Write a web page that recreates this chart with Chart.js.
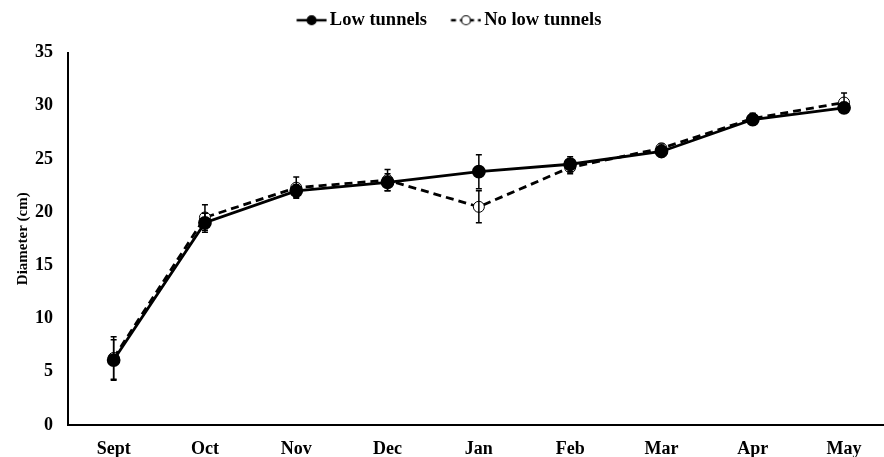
<!DOCTYPE html>
<html>
<head>
<meta charset="utf-8">
<script src="https://cdn.jsdelivr.net/npm/chart.js@4.4.0/dist/chart.umd.min.js"></script>
<style>
  html, body { margin: 0; padding: 0; background: #ffffff; overflow: hidden; }
  /* plot runs a little past the right edge of the window, like the original */
  #wrap { width: 898px; height: 457px; }
</style>
</head>
<body>
<div id="wrap"><canvas id="diameterChart"></canvas></div>
<script>
'use strict';
// values
const months = ['Sept', 'Oct', 'Nov', 'Dec', 'Jan', 'Feb', 'Mar', 'Apr', 'May'];
const lowTunnels = [6.1, 19.0, 22.0, 22.8, 23.8, 24.5, 25.7, 28.7, 29.8];
const lowTunnelsErr = [1.9, 0.9, 0.6, 0.8, 1.6, 0.7, 0.5, 0.5, 0.5];
const noLowTunnels = [6.3, 19.5, 22.3, 23.0, 20.5, 24.2, 26.0, 28.8, 30.3];
const noLowTunnelsErr = [2.0, 1.2, 1.0, 1.0, 1.5, 0.6, 0.4, 0.5, 0.9];
const yTicks = [0, 5, 10, 15, 20, 25, 30, 35];

Chart.defaults.font.family = "'Liberation Serif', 'Times New Roman', serif";
Chart.defaults.font.weight = 'bold';
Chart.defaults.color = '#000000';

// legend marker: line with a dot in the middle, blank on the left so the items sit apart
function legendMarker(dashed, filled) {
    let c = document.createElement('canvas');
    c.width = 50;
    c.height = 14;
    let g = c.getContext('2d');
    g.strokeStyle = '#000';
    g.lineWidth = 2.5;
    if (dashed) g.setLineDash([5, 4]);
    g.beginPath();
    g.moveTo(19.5, 7);
    g.lineTo(49.5, 7);
    g.stroke();
    g.setLineDash([]);
    g.beginPath();
    g.arc(34.5, 7, 4.5, 0, Math.PI * 2);
    g.fillStyle = filled ? '#000' : '#fff';
    g.fill();
    g.lineWidth = 1.2;
    g.stroke();
    return c;
}

// vertical error bars with small caps
const errorBars = {
    id: 'errorBars',
    afterDatasetsDraw(chart) {
        let ctx = chart.ctx;
        let y = chart.scales.y;
        chart.data.datasets.forEach((ds, i) => {
            let meta = chart.getDatasetMeta(i);
            ctx.save();
            ctx.strokeStyle = '#000';
            ctx.lineWidth = 1.5;
            meta.data.forEach((pt, j) => {
                let v = ds.data[j], e = ds.errors[j];
                let top = y.getPixelForValue(v + e);
                let bot = y.getPixelForValue(v - e);
                ctx.beginPath();
                ctx.moveTo(pt.x, top);
                ctx.lineTo(pt.x, bot);
                ctx.moveTo(pt.x - 3, top);
                ctx.lineTo(pt.x + 3, top);
                ctx.moveTo(pt.x - 3, bot);
                ctx.lineTo(pt.x + 3, bot);
                ctx.stroke();
            });
            ctx.restore();
        });
    }
};

// extra room under the legend, and centre it on the visible window
const legendGap = {
    id: 'legendGap',
    beforeInit(chart) {
        let fit = chart.legend.fit;
        chart.legend.fit = function () {
            fit.bind(chart.legend)();
            this.height += 13;
        };
    },
    afterLayout(chart) {
        chart.legend.right -= 13;
    }
};

let ctxDiameter = document.getElementById('diameterChart').getContext('2d');
let diameterChart = new Chart(ctxDiameter, {
    type: 'line',
    data: {
        labels: months,
        datasets: [{
            label: 'Low tunnels',
            data: lowTunnels,
            errors: lowTunnelsErr,
            borderColor: '#000',
            backgroundColor: '#000',
            borderWidth: 2.8,
            pointRadius: 5.5,
            pointBackgroundColor: '#000',
            pointBorderColor: '#000',
            tension: 0,
            legendMarker: legendMarker(false, true)
        }, {
            label: 'No low tunnels',
            data: noLowTunnels,
            errors: noLowTunnelsErr,
            borderColor: '#000',
            backgroundColor: '#fff',
            borderWidth: 2.8,
            borderDash: [8, 5],
            pointRadius: 5.5,
            pointBackgroundColor: '#fff',
            pointBorderColor: '#000',
            pointBorderWidth: 1,
            tension: 0,
            legendMarker: legendMarker(true, false)
        }]
    },
    options: {
        responsive: true,
        maintainAspectRatio: false,
        animation: false,
        scales: {
            x: {
                offset: true,
                grid: {display: false, drawTicks: false},
                border: {display: true, color: '#000', width: 2},
                ticks: {font: {size: 18, weight: 'bold'}, padding: 14},
                afterFit: scale => { scale.height = 32; }
            },
            y: {
                min: 0,
                max: 35,
                afterBuildTicks: scale => { scale.ticks = yTicks.map(v => ({value: v})); },
                grid: {display: false, drawTicks: false},
                border: {display: true, color: '#000', width: 2},
                ticks: {font: {size: 18, weight: 'bold'}, padding: 15},
                title: {
                    display: true,
                    text: 'Diameter (cm)',
                    font: {size: 15, weight: 'bold'},
                    padding: {top: 14, bottom: 0}
                },
                afterFit: scale => { scale.width = 68; }
            }
        },
        plugins: {
            legend: {
                position: 'top',
                labels: {
                    usePointStyle: true,
                    pointStyleWidth: 37,
                    font: {size: 18.5, weight: 'bold'},
                    padding: 11,
                    generateLabels: chart => chart.data.datasets.map((ds, i) => ({
                        text: ds.label,
                        pointStyle: ds.legendMarker,
                        fillStyle: '#000',
                        strokeStyle: '#000',
                        lineWidth: 0,
                        fontColor: '#000',
                        datasetIndex: i,
                        hidden: false
                    }))
                }
            },
            tooltip: {enabled: false}
        }
    },
    plugins: [errorBars, legendGap]
});
</script>
</body>
</html>
